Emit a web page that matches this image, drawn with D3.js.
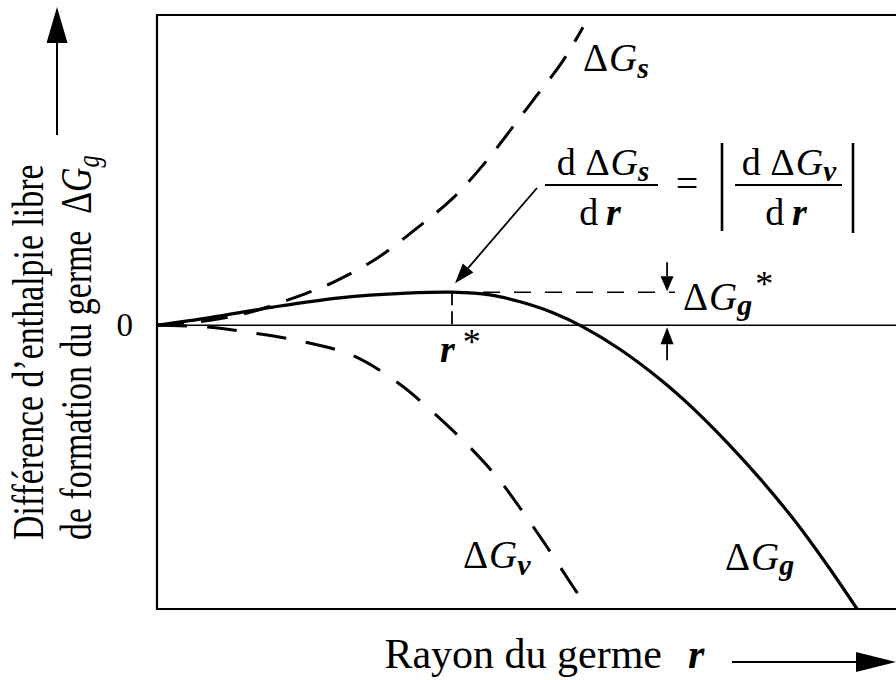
<!DOCTYPE html>
<html>
<head>
<meta charset="utf-8">
<script src="https://cdn.jsdelivr.net/npm/d3@7"></script>
<style>
  body { margin: 0; background: #fff; }
  svg { display: block; }
  svg text { font-family: "Liberation Serif", "Times New Roman", Times, serif; fill: #000; }
</style>
</head>
<body>
<svg id="chart" width="896" height="680"></svg>
<script>
// Nucleation free-energy diagram: surface term, volume term and their sum
// against the germ radius r (arbitrary units, r* = 1, ΔGg* = 1).

const rDomain = [0, 2.505];
const gDomain = [-8.6, 9.4];
const yTicks = [0];
const yTickLabels = ["0"];

const rStar = 1.0;
const gStar = 1.0;

// Surface contribution ΔGs (positive, grows like r²)
const surfR = [0, 0.18, 0.315, 0.461, 0.597, 0.746, 0.881, 1.003, 1.105, 1.203, 1.288, 1.373, 1.444];
const surfG = [0, 0.15, 0.39, 0.82, 1.30, 2.03, 2.94, 3.85, 4.85, 5.97, 6.97, 7.97, 9.03];

// Volume contribution ΔGv (negative, grows like r³)
const volR = [0, 0.18, 0.305, 0.485, 0.661, 0.814, 0.936, 1.054, 1.156, 1.241, 1.325, 1.407, 1.461];
const volG = [0, -0.06, -0.21, -0.48, -0.91, -1.73, -2.64, -3.64, -4.64, -5.67, -6.76, -7.88, -8.6];

// Total ΔGg
const totR = [0, 0.18, 0.393, 0.62, 0.847, 1.0, 1.129, 1.231, 1.342, 1.444, 1.569, 1.705, 1.817, 1.932, 2.044, 2.156, 2.271, 2.373];
const totG = [0, 0.23, 0.55, 0.83, 0.97, 1.0, 0.92, 0.71, 0.38, -0.05, -0.73, -1.64, -2.52, -3.55, -4.65, -5.86, -7.26, -8.6];

const FONT = "'Liberation Serif','Times New Roman',Times,serif";
const svg = d3.select("#chart").style("font-family", FONT);
const pL = 157, pT = 15, pB = 609, pR = 896;

const x = d3.scaleLinear().domain(rDomain).range([pL, pR]);
const y = d3.scaleLinear().domain(gDomain).range([pB, pT]);

const zip = (a, b) => a.map((v, i) => [v, b[i]]);

svg.append("defs").append("clipPath").attr("id", "plot")
  .append("rect").attr("x", pL).attr("y", pT)
  .attr("width", pR - pL).attr("height", pB - pT);

// frame (open on the right)
svg.append("path")
  .attr("d", `M${pR},${pT}H${pL}V${pB}H${pR}`)
  .attr("fill", "none").attr("stroke", "#000").attr("stroke-width", 2.2);

// zero line
svg.append("line")
  .attr("x1", pL).attr("x2", pR).attr("y1", y(0)).attr("y2", y(0))
  .attr("stroke", "#000").attr("stroke-width", 1.6);

// y tick label "0"
const yAxis = d3.axisLeft(y).tickValues(yTicks).tickFormat((d, i) => yTickLabels[i])
  .tickSizeInner(0).tickSizeOuter(0).tickPadding(24);
const ya = svg.append("g").attr("transform", `translate(${pL},0)`).call(yAxis);
ya.select(".domain").remove();
ya.selectAll("text").attr("font-size", 33).style("font-family", FONT).attr("fill", "#000");

const line = d3.line().x(d => x(d[0])).y(d => y(d[1])).curve(d3.curveCatmullRom.alpha(0.5));
const plot = svg.append("g").attr("clip-path", "url(#plot)");

plot.append("path").attr("d", line(zip(surfR, surfG)))
  .attr("fill", "none").attr("stroke", "#000").attr("stroke-width", 3)
  .attr("stroke-dasharray", "27 17");
plot.append("path").attr("d", line(zip(volR, volG)))
  .attr("fill", "none").attr("stroke", "#000").attr("stroke-width", 3)
  .attr("stroke-dasharray", "30 20");
plot.append("path").attr("d", line(zip(totR, totG)))
  .attr("fill", "none").attr("stroke", "#000").attr("stroke-width", 3.2);

// critical radius and barrier height guides
const guideEnd = 1.756, arrowR = 1.729;
svg.append("line")
  .attr("x1", x(rStar)).attr("x2", x(guideEnd)).attr("y1", y(gStar)).attr("y2", y(gStar))
  .attr("stroke", "#000").attr("stroke-width", 1.6).attr("stroke-dasharray", "17 14");
svg.append("line")
  .attr("x1", x(rStar)).attr("x2", x(rStar)).attr("y1", y(gStar)).attr("y2", y(0))
  .attr("stroke", "#000").attr("stroke-width", 1.8).attr("stroke-dasharray", "13 6");

function arrow(x1, y1, x2, y2, len, half, w) {
  const ang = Math.atan2(y2 - y1, x2 - x1);
  const bx = x2 - len * Math.cos(ang), by = y2 - len * Math.sin(ang);
  svg.append("line").attr("x1", x1).attr("y1", y1).attr("x2", bx).attr("y2", by)
    .attr("stroke", "#000").attr("stroke-width", w);
  const px = -Math.sin(ang) * half, py = Math.cos(ang) * half;
  svg.append("polygon")
    .attr("points", `${x2},${y2} ${bx + px},${by + py} ${bx - px},${by - py}`)
    .attr("fill", "#000");
}

const ax = x(arrowR);
arrow(ax, y(gStar) - 30, ax, y(gStar) - 1, 15, 6.5, 1.8);
arrow(ax, y(0) + 35, ax, y(0) + 2, 17, 6.5, 1.8);
arrow(537, 188, x(rStar) + 3, y(gStar) - 9, 20, 7, 1.8);

// axis arrows
arrow(57, 135, 57, 7, 36, 10.5, 2);
arrow(732, 662, 896, 662, 40, 10, 2);

// math labels
function label(xp, yp, size, parts) {
  const t = svg.append("text").attr("x", xp).attr("y", yp).attr("font-size", size)
    .style("font-family", FONT);
  parts.forEach(p => {
    const s = t.append("tspan").text(p.t);
    if (p.it) s.attr("font-style", "italic");
    if (p.b) s.attr("font-weight", "bold");
    if (p.fs) s.attr("font-size", p.fs);
    if (p.dy) s.attr("dy", p.dy);
    if (p.dx) s.attr("dx", p.dx);
  });
  return t;
}

label(583, 71, 39, [{t: "Δ"}, {t: "G", it: 1, dx: 1}, {t: "s", it: 1, b: 1, fs: 30, dy: 7}]);
label(463, 568, 39, [{t: "Δ"}, {t: "G", it: 1, dx: 1}, {t: "v", it: 1, b: 1, fs: 30, dy: 7}]);
label(725, 570, 39, [{t: "Δ"}, {t: "G", it: 1, dx: 1}, {t: "g", it: 1, b: 1, fs: 30, dy: 5}]);
label(683, 310, 39, [{t: "Δ"}, {t: "G", it: 1, dx: 1}, {t: "g", it: 1, b: 1, fs: 30, dy: 5}, {t: "*", fs: 36, dx: 3, dy: -19}]);
label(440, 362, 38, [{t: "r", it: 1, b: 1}, {t: "*", fs: 36, dx: 8, dy: -8}]);

// derivative condition
function frac(cx, sub, barL, barR) {
  label(cx, 175, 38, [{t: "d Δ"}, {t: "G", it: 1, dx: 1}, {t: sub, it: 1, b: 1, fs: 29, dy: 6}])
    .attr("text-anchor", "middle");
  svg.append("line").attr("x1", barL).attr("x2", barR).attr("y1", 185).attr("y2", 185)
    .attr("stroke", "#000").attr("stroke-width", 2);
  label(cx - 3, 225, 38, [{t: "d\u2009"}, {t: "r", it: 1, b: 1}]).attr("text-anchor", "middle");
}
frac(603, "s", 545, 658);
label(687, 197, 40, [{t: "="}]).attr("text-anchor", "middle");
svg.append("line").attr("x1", 722).attr("x2", 722).attr("y1", 143).attr("y2", 231)
  .attr("stroke", "#000").attr("stroke-width", 2.6);
svg.append("line").attr("x1", 853).attr("x2", 853).attr("y1", 143).attr("y2", 233)
  .attr("stroke", "#000").attr("stroke-width", 2.6);
frac(789, "v", 735, 842);

// axis titles
const yt1 = svg.append("g").attr("transform", "translate(43,540) rotate(-90) scale(0.77,1)");
yt1.append("text").attr("font-size", 44).style("font-family", FONT)
  .text("Différence d\u2019enthalpie libre");
const yt2 = svg.append("g").attr("transform", "translate(91,540) rotate(-90) scale(0.77,1)");
const t2 = yt2.append("text").attr("font-size", 44).style("font-family", FONT);
t2.append("tspan").text("de formation du germe\u2002Δ");
t2.append("tspan").attr("font-style", "italic").text("G");
t2.append("tspan").attr("font-style", "italic").attr("font-size", 32).attr("dy", 8).text("g");

label(662, 668, 42, [{t: "Rayon du germe"}]).attr("text-anchor", "end");
label(688, 668, 42, [{t: "r", it: 1, b: 1}]);
</script>
</body>
</html>
